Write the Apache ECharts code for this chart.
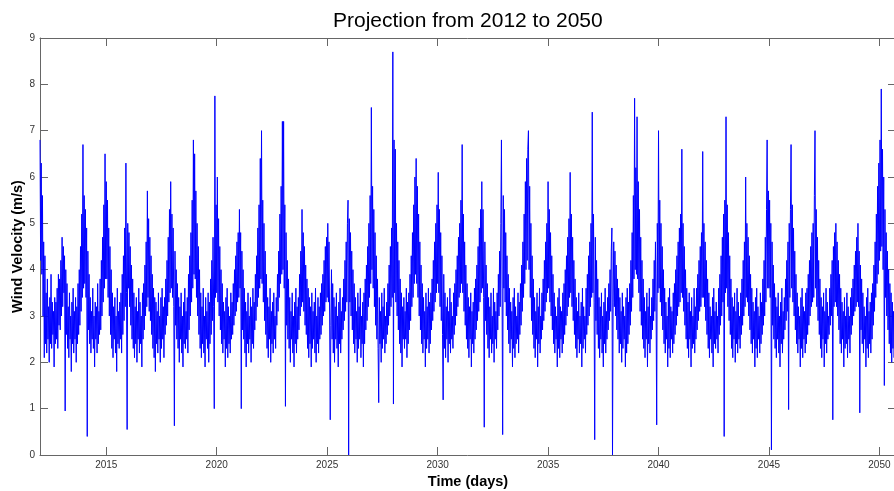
<!DOCTYPE html>
<html>
<head>
<meta charset="utf-8">
<script src="https://cdn.jsdelivr.net/npm/echarts@6/dist/echarts.min.js"></script>
<style>
html,body{margin:0;padding:0;background:#fff;}
#chart{width:894px;height:491px;}
</style>
</head>
<body>
<div id="chart"></div>
<script>
// Estimated wind velocity (m/s), 36 samples per year (about every 10 days)
const samplesPerYear = 36;
const years = [2012,2013,2014,2015,2016,2017,2018,2019,2020,2021,2022,2023,2024,2025,2026,2027,2028,2029,2030,2031,2032,2033,2034,2035,2036,2037,2038,2039,2040,2041,2042,2043,2044,2045,2046,2047,2048,2049,2050];
const xTicks = [2015,2020,2025,2030,2035,2040,2045,2050];

const w2012 = [6.8,4.2,6.3,3.9,5.6,3.0,4.6,2.1,4.3,2.4, 3.5,2.2,3.8,2.5,3.2,2.0,3.4,2.4,3.9,2.3,3.3,2.6,3.1,1.9,3.4,2.4, 3.3,2.5,3.6,2.3,3.9,2.8,3.8,2.7,4.2,3.0];
const w2013 = [4.7,3.2,4.5,3.5,4.3,0.95,4.0,2.6,3.7,2.3, 3.2,2.1,3.5,2.5,3.0,1.8,3.3,2.4,3.6,2.2,3.1,2.5,3.4,2.0,3.2,2.4, 3.7,2.6,4.0,2.8,4.5,3.1,5.2,3.4,6.7,3.6];
const w2014 = [5.6,3.7,5.3,3.4,4.9,0.4,4.4,2.7,3.9,2.4, 3.4,2.2,3.1,2.5,3.6,2.3,3.0,1.9,3.3,2.5,3.2,2.2,3.7,2.4,3.1,2.6, 3.8,2.7,4.2,3.0,4.7,3.3,5.4,3.6,6.5,3.8];
const w2015 = [5.9,3.8,5.5,3.4,4.9,3.0,4.5,2.6,4.0,2.3, 3.5,2.1,3.2,2.5,3.4,2.2,3.0,1.8,3.6,2.4,3.1,2.3,3.3,2.5,3.5,2.2, 3.9,2.6,4.3,2.9,4.9,3.2,6.3,3.5,0.55,5.0];
const w2016 = [3.6,4.8,3.2,4.5,2.8,4.1,2.5,3.8,2.3,3.5, 2.1,3.2,2.4,3.4,2.0,3.1,2.5,3.6,2.2,3.3,2.4,3.0,1.9,3.5,2.5,3.7, 2.7,4.1,3.0,4.6,3.2,5.7,3.4,5.1,3.1,4.7];
const w2017 = [2.9,4.3,2.6,3.9,2.3,3.6,2.1,3.4,1.8,3.3, 2.4,3.1,2.2,3.5,2.5,3.0,2.0,3.4,2.3,3.6,2.5,3.2,2.1,3.4,2.6,3.8, 2.8,4.2,3.0,4.7,3.3,5.3,3.5,5.9,3.6,5.2];
const w2018 = [3.4,4.9,3.2,0.63,4.4,2.8,4.0,2.5,3.7,2.3, 3.4,2.0,3.2,2.5,3.5,2.2,3.0,1.9,3.3,2.4,3.6,2.3,3.1,2.5,3.4,2.2, 3.9,2.7,4.3,3.0,4.8,3.3,5.5,3.6,6.8,3.9];
const w2019 = [6.5,3.8,5.7,3.4,5.0,3.0,4.5,2.6,4.0,2.3, 3.5,2.1,3.2,2.4,3.6,2.2,3.0,1.9,3.4,2.5,3.1,2.3,3.5,2.0,3.3,2.4, 3.8,2.6,4.2,2.9,4.7,3.2,1.0,7.75,3.4,5.4];
const w2020 = [3.5,6.0,3.3,5.1,3.0,4.5,2.7,4.0,2.4,3.7, 2.2,3.3,2.5,3.1,1.9,3.4,2.3,3.6,2.1,3.2,2.4,3.0,2.2,3.5,2.5,3.3, 2.6,3.7,2.8,4.0,3.0,4.3,3.1,4.6,3.3,4.8];
const w2021 = [3.4,5.3,3.6,4.8,1.0,4.4,2.7,4.0,2.5,3.6, 2.2,3.3,1.9,3.1,2.4,3.5,2.2,3.0,2.5,3.4,2.0,3.2,2.4,3.6,2.3,3.3, 2.7,3.9,2.9,4.3,3.2,4.9,3.4,5.4,3.6,6.4];
const w2022 = [3.8,7.0,3.7,5.5,3.3,5.0,2.9,4.4,2.6,3.9, 2.3,3.4,2.1,3.2,2.5,3.6,2.0,3.1,2.4,3.3,2.2,3.5,2.5,3.0,2.3,3.4, 2.8,3.9,3.1,4.4,3.4,5.2,3.7,5.8,3.9,7.2];
const w2023 = [4.0,7.2,3.6,5.4,1.05,4.8,2.8,4.2,2.5,3.8, 2.3,3.4,2.0,3.1,2.5,3.5,2.2,3.0,1.9,3.3,2.4,3.6,2.2,3.2,2.5,3.4, 2.7,3.9,3.0,4.4,3.2,5.3,3.3,4.8,3.1,4.5];
const w2024 = [2.8,4.1,2.6,3.8,2.3,3.6,2.1,3.4,2.4,3.2, 1.9,3.5,2.3,3.1,2.5,3.3,2.2,3.6,2.0,3.0,2.4,3.4,2.2,3.2,2.5,3.5, 2.6,3.7,2.8,3.9,3.0,4.2,3.1,4.5,3.3,4.7];
const w2025 = [3.4,5.0,3.3,4.6,3.0,0.76,2.8,4.0,2.5,3.7, 2.2,3.4,2.0,3.2,2.5,3.5,2.3,3.0,1.9,3.3,2.4,3.6,2.2,3.1,2.5,3.4, 2.7,3.8,2.9,4.2,3.1,4.6,3.3,5.0,5.5,0.0];
const w2026 = [5.1,3.3,4.8,3.0,4.4,2.7,4.0,2.4,3.7,2.2, 3.4,2.5,3.1,2.0,3.5,2.3,3.2,2.5,3.6,2.1,3.0,2.4,3.3,1.9,3.5,2.4, 3.8,2.7,4.1,2.9,4.5,3.2,5.0,3.4,5.6,3.7];
const w2027 = [7.5,4.0,5.8,3.6,5.3,3.2,4.8,2.8,4.3,2.5, 3.8,2.3,1.13,3.4,2.4,3.1,2.0,3.5,2.3,3.2,2.5,3.6,2.2,3.0,2.4,3.3, 2.6,3.7,2.8,4.1,3.0,4.5,3.2,4.9,3.4,8.7];
const w2028 = [1.1,6.8,3.5,6.6,3.3,5.0,3.0,4.6,2.7,4.2, 2.4,3.8,2.2,3.5,1.9,3.2,2.5,3.4,2.3,3.1,2.5,3.6,2.1,3.3,2.4,3.5, 2.7,3.9,2.9,4.3,3.2,4.8,3.4,5.4,3.7,6.0];
const w2029 = [3.9,6.4,3.7,5.8,3.4,5.2,3.0,4.6,2.7,4.1, 2.4,3.7,2.2,3.4,2.5,3.1,1.9,3.5,2.3,3.2,2.5,3.6,2.2,3.3,2.4,3.5, 2.7,3.8,2.9,4.2,3.1,4.6,3.3,5.0,3.5,5.4];
const w2030 = [3.7,6.1,3.5,5.3,3.2,4.8,2.9,4.3,2.6,1.19, 3.9,2.3,3.5,2.1,3.2,2.5,3.4,2.0,3.1,2.4,3.6,2.2,3.3,2.5,3.0,2.3, 3.5,2.6,3.7,2.8,4.0,3.0,4.3,3.2,4.7,3.4];
const w2031 = [5.0,3.5,5.5,3.7,6.7,3.5,5.2,3.1,4.6,2.8, 4.1,2.5,3.7,2.3,3.4,2.1,3.2,2.5,3.5,1.9,3.1,2.4,3.3,2.2,3.6,2.5, 3.8,2.7,4.1,2.9,4.5,3.1,4.9,3.3,5.3,3.5];
const w2032 = [5.9,3.6,5.3,3.4,0.6,4.6,2.9,4.1,2.6,3.7, 2.3,3.4,2.1,3.2,2.5,3.5,2.2,3.0,2.4,3.6,2.0,3.3,2.5,3.1,2.3,3.5, 2.7,3.9,3.0,4.4,3.2,5.0,6.8,3.6,0.44,5.6];
const w2033 = [3.6,5.3,3.3,4.8,3.0,4.3,2.7,3.9,2.4,3.6, 2.2,3.3,2.5,3.1,1.9,3.4,2.3,3.6,2.1,3.2,2.4,3.0,2.5,3.5,2.2,3.3, 2.6,3.7,2.8,4.1,3.1,4.6,3.4,5.2,3.7,5.9];
const w2034 = [4.0,6.4,4.2,6.6,7.0,4.0,5.8,3.4,5.0,2.9, 4.3,2.6,3.8,2.3,3.4,2.1,3.1,2.5,3.5,1.9,3.2,2.4,3.6,2.2,3.0,2.5, 3.5,2.7,3.8,2.9,4.2,3.1,4.6,3.3,5.0,3.5];
const w2035 = [5.9,3.6,5.3,3.3,4.8,3.0,4.3,2.7,3.9,2.4, 3.5,2.2,3.2,2.5,3.0,1.9,3.4,2.3,3.6,2.1,3.2,2.5,3.1,2.2,3.5,2.4, 3.7,2.6,4.0,2.8,4.3,3.0,4.7,3.2,5.1,3.4];
const w2036 = [6.1,3.5,5.2,3.2,4.7,2.9,4.2,2.6,3.8,2.3, 3.4,2.1,3.1,2.5,3.5,2.2,3.0,2.4,3.3,1.9,3.6,2.3,3.2,2.5,3.0,2.2, 3.6,2.6,3.9,2.8,4.3,3.0,4.6,3.2,5.0,3.4];
const w2037 = [7.4,3.5,5.2,3.3,0.33,4.7,2.9,4.2,2.6,3.8, 2.3,3.4,2.1,3.2,2.5,3.5,2.2,3.0,1.9,3.3,2.4,3.6,2.2,3.1,2.5,3.4, 2.7,3.7,2.9,4.0,3.1,4.4,4.9,0.0,3.3,4.6];
const w2038 = [3.2,4.4,3.0,4.1,2.7,3.8,2.5,3.6,2.2,3.4, 2.4,3.1,2.0,3.5,2.3,3.2,2.5,3.0,1.9,3.4,2.2,3.6,2.4,3.3,2.6,3.7, 2.8,4.2,3.1,4.8,3.4,5.6,3.8,7.7,4.0,6.2];
const w2039 = [3.9,7.3,3.8,5.9,3.5,5.3,3.1,4.7,2.8,4.2, 2.5,3.8,2.3,3.4,2.1,3.1,2.5,3.5,1.9,3.2,2.4,3.6,2.2,3.0,2.5,3.4, 2.7,3.8,2.9,4.2,3.1,4.6,3.3,0.65,5.0,3.5];
const w2040 = [7.0,3.6,5.5,3.3,5.0,3.0,4.5,2.7,4.0,2.4, 3.6,2.2,3.3,2.5,3.0,1.9,3.4,2.3,3.6,2.1,3.2,2.5,3.1,2.2,3.5,2.4, 3.7,2.6,4.0,2.8,4.3,3.0,4.6,3.2,4.9,3.3];
const w2041 = [5.2,3.5,6.6,3.4,5.0,3.1,4.5,2.8,4.0,2.5, 3.6,2.3,3.3,2.1,3.5,2.5,3.1,1.9,3.4,2.3,3.0,2.4,3.6,2.2,3.2,2.5, 3.6,2.7,3.9,2.9,4.2,3.1,4.5,3.2,4.8,3.4];
const w2042 = [6.55,3.4,5.0,3.2,4.6,2.9,4.2,2.6,3.8,2.3, 3.5,2.1,3.2,2.5,3.0,2.2,3.4,1.9,3.6,2.4,3.1,2.3,3.3,2.5,3.0,2.2, 3.6,2.6,3.9,2.8,4.3,3.0,4.7,3.3,5.2,0.4];
const w2043 = [5.5,3.5,7.3,3.6,5.4,3.2,4.8,2.9,4.3,2.6, 3.8,2.3,3.4,2.1,3.2,2.5,3.5,2.0,3.1,2.4,3.6,2.2,3.3,2.5,3.0,2.3, 3.5,2.6,3.8,2.8,4.2,3.0,4.6,3.2,6.0,3.4];
const w2044 = [5.0,3.3,4.7,3.0,4.3,2.7,3.9,2.4,3.6,2.2, 3.3,2.5,3.1,1.9,3.4,2.3,3.6,2.1,3.2,2.5,3.0,2.2,3.5,2.4,3.3,2.6, 3.8,2.8,4.2,3.0,4.7,3.3,5.3,6.8,3.6,5.7];
const w2045 = [3.6,5.5,3.4,5.0,0.11,4.6,2.8,4.1,2.5,3.7, 2.3,3.4,2.1,3.2,2.5,3.5,2.2,3.0,1.9,3.3,2.4,3.6,2.2,3.1,2.5,3.4, 2.7,3.8,2.9,4.2,3.1,4.6,0.98,5.0,3.4,5.3];
const w2046 = [6.7,3.6,5.4,3.3,4.9,3.0,4.4,2.7,3.9,2.4, 3.5,2.2,3.2,2.5,3.0,1.9,3.4,2.3,3.6,2.1,3.2,2.5,3.1,2.2,3.5,2.4, 3.6,2.6,3.9,2.8,4.2,3.0,4.5,3.2,4.8,3.3];
const w2047 = [5.0,3.4,5.6,7.0,3.6,5.3,3.2,4.7,2.9,4.2, 2.6,3.8,2.3,3.4,2.1,3.2,2.5,3.5,1.9,3.1,2.4,3.6,2.2,3.3,2.5,3.0, 2.6,3.6,2.8,3.9,3.0,4.2,0.76,4.5,3.2,4.8];
const w2048 = [3.3,5.0,3.2,4.6,3.0,4.2,2.7,3.9,2.4,3.6, 2.2,3.3,2.5,3.1,1.9,3.4,2.3,3.0,2.4,3.5,2.1,3.2,2.5,3.0,2.2,3.4, 2.6,3.6,2.8,3.8,3.0,4.1,3.1,4.4,3.2,4.7];
const w2049 = [3.3,5.0,3.2,4.4,0.91,4.1,2.7,3.8,2.4,3.5, 2.2,3.2,2.5,3.0,1.9,3.4,2.3,3.6,2.1,3.1,2.4,3.3,2.2,3.5,2.5,3.7, 2.8,4.1,3.1,4.6,3.4,5.2,3.7,5.8,3.9,6.3];
const w2050 = [4.2,6.8,4.4,7.9,4.5,6.6,4.0,6.0,1.5,5.3, 3.4,4.8,3.0,4.4,2.7,4.0,2.4,3.7,2.2,3.5,2.0,3.3,2.3,3.1,2.1,3.4,2.4];

const windByYear = [w2012,w2013,w2014,w2015,w2016,w2017,w2018,w2019,w2020,w2021,w2022,w2023,w2024,w2025,w2026,w2027,w2028,w2029,w2030,w2031,w2032,w2033,w2034,w2035,w2036,w2037,w2038,w2039,w2040,w2041,w2042,w2043,w2044,w2045,w2046,w2047,w2048,w2049,w2050];

const seriesData = [];
years.forEach(function (y, i) {
  windByYear[i].forEach(function (v, k) {
    seriesData.push([y + k / samplesPerYear, v]);
  });
});

const X_MIN = 2012, X_MAX = 2050.75;
const frameColor = '#666';
const labelStyle = { color: '#333', fontSize: 10, fontFamily: 'Liberation Sans, Arial, sans-serif' };

const chart = echarts.init(document.getElementById('chart'), null, { renderer: 'canvas' });
chart.setOption({
  animation: false,
  backgroundColor: '#fff',
  title: {
    text: 'Projection from 2012 to 2050',
    left: 328,
    top: 6,
    textStyle: { fontFamily: 'Liberation Sans, Arial, sans-serif', fontSize: 21, fontWeight: 'normal', color: '#000' }
  },
  grid: { left: 40, right: -2, top: 38, bottom: 36, containLabel: false, outerBoundsMode: 'none' },
  xAxis: [
    {
      type: 'value', min: X_MIN, max: X_MAX, position: 'bottom',
      name: 'Time (days)', nameLocation: 'middle', nameGap: 19, nameMoveOverlap: false,
      nameTextStyle: { fontFamily: 'Liberation Sans, Arial, sans-serif', fontSize: 14.5, fontWeight: 'bold', color: '#000' },
      axisLine: { show: true, onZero: false, lineStyle: { color: frameColor, width: 1 } },
      axisTick: { show: true, inside: true, length: 8, customValues: xTicks, lineStyle: { color: frameColor } },
      axisLabel: Object.assign({ margin: 5, customValues: xTicks, formatter: function (v) { return String(v); } }, labelStyle),
      splitLine: { show: false }
    },
    {
      type: 'value', min: X_MIN, max: X_MAX, position: 'top',
      axisLine: { show: true, onZero: false, lineStyle: { color: frameColor, width: 1 } },
      axisTick: { show: true, inside: true, length: 8, customValues: xTicks, lineStyle: { color: frameColor } },
      axisLabel: { show: false },
      splitLine: { show: false }
    }
  ],
  yAxis: [
    {
      type: 'value', min: 0, max: 9, interval: 1, position: 'left',
      name: 'Wind Velocity (m/s)', nameLocation: 'middle', nameGap: 15, nameRotate: 90, nameMoveOverlap: false,
      nameTextStyle: { fontFamily: 'Liberation Sans, Arial, sans-serif', fontSize: 14.5, fontWeight: 'bold', color: '#000' },
      axisLine: { show: true, onZero: false, lineStyle: { color: frameColor, width: 1 } },
      axisTick: { show: true, inside: true, length: 8, lineStyle: { color: frameColor } },
      axisLabel: Object.assign({ margin: 5 }, labelStyle),
      splitLine: { show: false }
    },
    {
      type: 'value', min: 0, max: 9, interval: 1, position: 'right',
      axisLine: { show: true, onZero: false, lineStyle: { color: frameColor, width: 1 } },
      axisTick: { show: true, inside: true, length: 8, lineStyle: { color: frameColor } },
      axisLabel: { show: false },
      splitLine: { show: false }
    }
  ],
  series: [
    {
      type: 'line',
      xAxisIndex: 0,
      yAxisIndex: 0,
      data: seriesData,
      showSymbol: false,
      symbol: 'none',
      lineStyle: { color: '#0000ff', width: 1 },
      clip: true,
      silent: true
    }
  ]
});
</script>
</body>
</html>
